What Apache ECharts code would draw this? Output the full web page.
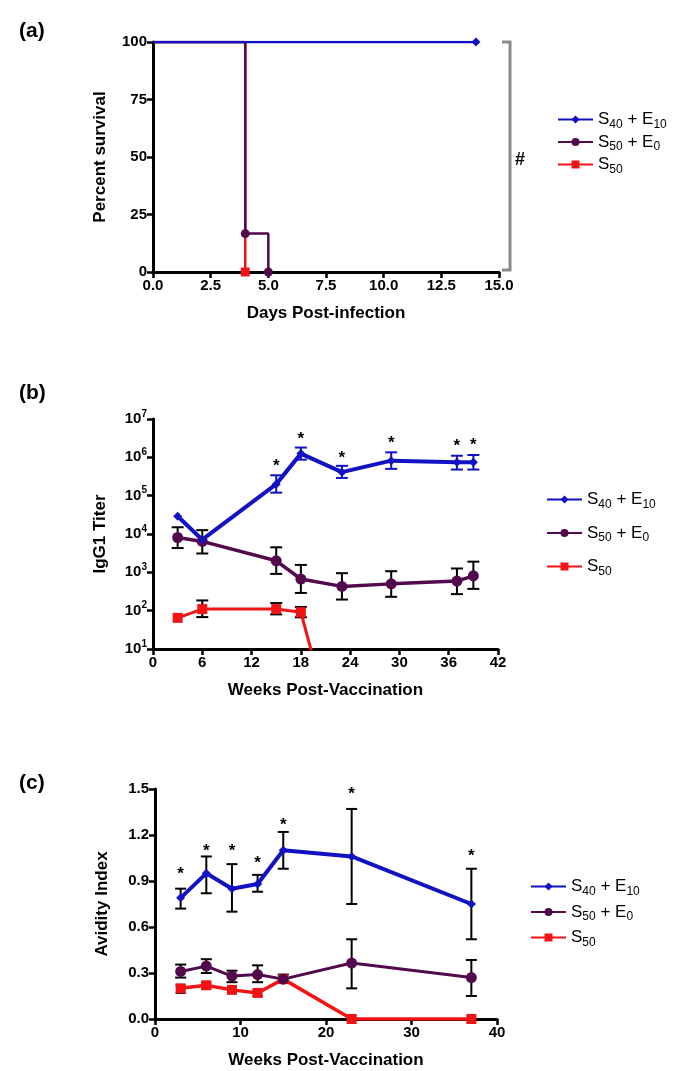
<!DOCTYPE html>
<html>
<head>
<meta charset="utf-8">
<script src="https://cdn.jsdelivr.net/npm/echarts@6/dist/echarts.min.js"></script>
<style>
  html, body { margin: 0; padding: 0; background: #fff; }
  #chart { width: 677px; height: 1071px; }
</style>
</head>
<body>
<div id="chart"></div>
<script>
// (a) survival, days post-infection
const daysBlue = [0, 14]
const survBlue = [100, 100]
const daysPurple = [0, 4, 5]
const survPurple = [100, 16.7, 0]
const daysRed = [0, 4]
const survRed = [100, 0]

// (b) IgG1 titer, weeks post-vaccination
const weeksB = [3, 6, 15, 18, 23, 29, 37, 39]
const igBlue = [29000, 7100, 200000, 1250000, 410000, 820000, 740000, 740000]
const igBlueLo = [null, null, 120000, 870000, 290000, 500000, 480000, 480000]
const igBlueHi = [null, null, 340000, 1800000, 600000, 1350000, 1100000, 1150000]
const igPurple = [8100, 6400, 2000, 670, 430, 500, 590, 810]
const igPurpleLo = [4300, 3100, 910, 290, 195, 230, 270, 370]
const igPurpleHi = [15000, 12600, 4500, 1560, 950, 1070, 1260, 1900]
const weeksRedB = [3, 6, 15, 18, 23]
const igRed = [65, 110, 110, 91, 0.01]
const igRedLo = [null, 68, 80, 67, null]
const igRedHi = [null, 185, 158, 125, null]
const starsB = [[15, 7.4e5], [18, 3.7e6], [23, 1.17e6], [29, 2.9e6], [37, 2.5e6], [39, 2.6e6]]

// (c) avidity index
const weeksC = [3, 6, 9, 12, 15, 23, 37]
const avBlue = [0.79, 0.95, 0.85, 0.88, 1.10, 1.06, 0.75]
const avBlueLo = [0.72, 0.82, 0.70, 0.83, 0.98, 0.75, 0.52]
const avBlueHi = [0.85, 1.06, 1.01, 0.94, 1.22, 1.37, 0.98]
const avPurple = [0.31, 0.345, 0.28, 0.29, 0.26, 0.365, 0.27]
const avPurpleLo = [0.27, 0.30, 0.24, 0.24, 0.235, 0.20, 0.15]
const avPurpleHi = [0.355, 0.39, 0.315, 0.35, 0.29, 0.52, 0.385]
const avRed = [0.20, 0.22, 0.19, 0.17, 0.26, 0, 0]
const avRedLo = [0.17, 0.20, 0.17, 0.15, null, null, null]
const avRedHi = [0.22, 0.235, 0.21, 0.19, null, null, null]
const starsC = [[3, 0.97], [6, 1.12], [9, 1.12], [12, 1.04], [15, 1.29], [23, 1.49], [37, 1.09]]

const names = ['S40 + E10', 'S50 + E0', 'S50']
const BLUE = '#1212c4'
const PURPLE = '#520a4c'
const RED = '#f21414'
const FONT = '"Liberation Sans", Arial, sans-serif'

const legendRich = {
  t: { fontSize: 17, fontFamily: FONT, color: '#000', lineHeight: 22 },
  s: { fontSize: 12, fontFamily: FONT, color: '#000', lineHeight: 12, verticalAlign: 'bottom' }
}
const legendText = {
  'S40 + E10': '{t|S}{s|40}{t| + E}{s|10}',
  'S50 + E0': '{t|S}{s|50}{t| + E}{s|0}',
  'S50': '{t|S}{s|50}'
}

function pairs(xs, ys) {
  return xs.map((x, i) => [x, ys[i]])
}

// survival points, no marker on the starting point
function survData(xs, ys) {
  return xs.map((x, i) => (i === 0 ? { value: [x, ys[i]], symbol: 'none' } : [x, ys[i]]))
}

function errorBars(xs, lo, hi, color, xi, w) {
  const data = []
  xs.forEach((x, i) => {
    if (lo[i] != null) data.push([x, lo[i], hi[i]])
  })
  return {
    type: 'custom',
    xAxisIndex: xi,
    yAxisIndex: xi,
    z: 3,
    silent: true,
    data: data,
    encode: { x: 0, y: [1, 2] },
    renderItem: function (params, api) {
      const x = api.value(0)
      const top = api.coord([x, api.value(2)])
      const bot = api.coord([x, api.value(1)])
      const st = { stroke: color, lineWidth: 2 }
      return {
        type: 'group',
        children: [
          { type: 'line', shape: { x1: top[0], y1: top[1], x2: bot[0], y2: bot[1] }, style: st },
          { type: 'line', shape: { x1: top[0] - w, y1: top[1], x2: top[0] + w, y2: top[1] }, style: st },
          { type: 'line', shape: { x1: bot[0] - w, y1: bot[1], x2: bot[0] + w, y2: bot[1] }, style: st }
        ]
      }
    }
  }
}

function stars(pts, xi) {
  return {
    type: 'custom',
    xAxisIndex: xi,
    yAxisIndex: xi,
    z: 4,
    silent: true,
    data: pts,
    renderItem: function (params, api) {
      const p = api.coord([api.value(0), api.value(1)])
      return {
        type: 'text',
        x: p[0],
        y: p[1] + 4,
        style: { text: '*', fill: '#000', font: 'bold 17px ' + FONT, align: 'center', verticalAlign: 'middle' }
      }
    }
  }
}

const axisBase = {
  axisLine: { lineStyle: { color: '#000', width: 3 } },
  axisTick: { length: 6, lineStyle: { color: '#000', width: 2.5 } },
  axisLabel: { color: '#000', fontFamily: FONT, fontWeight: 'bold', fontSize: 15, margin: 6 },
  splitLine: { show: false },
  nameLocation: 'middle',
  nameTextStyle: { color: '#000', fontFamily: FONT, fontWeight: 'bold', fontSize: 17 }
}

function xAx(i, max, step, fmt) {
  return Object.assign({}, axisBase, {
    gridIndex: i, type: 'value', min: 0, max: max, interval: step,
    name: i === 0 ? 'Days Post-infection' : 'Weeks Post-Vaccination', nameGap: 33,
    axisLabel: Object.assign({}, axisBase.axisLabel, { formatter: fmt })
  })
}

function legend(left, top, gap) {
  return {
    data: names, orient: 'vertical', left: left, top: top,
    itemWidth: 35, itemHeight: 10, itemGap: gap, selectedMode: false,
    formatter: n => legendText[n],
    textStyle: { rich: legendRich }
  }
}

const chart = echarts.init(document.getElementById('chart'))

chart.setOption({
  animation: false,
  title: [
    { text: '(a)', left: 14, top: 16 },
    { text: '(b)', left: 14, top: 378 },
    { text: '(c)', left: 14, top: 768 }
  ].map(t => Object.assign(t, { textStyle: { fontFamily: FONT, fontSize: 21, fontWeight: 'bold', color: '#000' } })),
  legend: [legend(552, 106, 3), legend(541, 486, 14), legend(525, 873, 6)],
  grid: [
    { left: 153, top: 42, width: 346, height: 230 },
    { left: 153, top: 419, width: 345, height: 230 },
    { left: 155, top: 789, width: 342, height: 230 }
  ],
  xAxis: [
    xAx(0, 15, 2.5, v => v.toFixed(1)),
    xAx(1, 42, 6, v => String(v)),
    xAx(2, 40, 10, v => String(v))
  ],
  yAxis: [
    Object.assign({}, axisBase, {
      gridIndex: 0, type: 'value', min: 0, max: 100, interval: 25,
      name: 'Percent survival', nameGap: 44
    }),
    Object.assign({}, axisBase, {
      gridIndex: 1, type: 'log', logBase: 10, min: 10, max: 1e7, splitNumber: 6,
      name: 'IgG1 Titer', nameGap: 44,
      axisLabel: Object.assign({}, axisBase.axisLabel, {
        formatter: v => '{b|10}{e|' + Math.round(Math.log10(v)) + '}',
        rich: {
          b: { fontFamily: FONT, fontWeight: 'bold', fontSize: 15, color: '#000', lineHeight: 20 },
          e: { fontFamily: FONT, fontWeight: 'bold', fontSize: 10, color: '#000', lineHeight: 10, verticalAlign: 'top' }
        }
      })
    }),
    Object.assign({}, axisBase, {
      gridIndex: 2, type: 'value', min: 0, max: 1.5, interval: 0.3,
      name: 'Avidity Index', nameGap: 44,
      axisLabel: Object.assign({}, axisBase.axisLabel, { formatter: v => v.toFixed(1) })
    })
  ],
  series: [
    // (a)
    { name: names[2], type: 'line', step: 'end', xAxisIndex: 0, yAxisIndex: 0, data: survData(daysRed, survRed),
      symbol: 'rect', symbolSize: 9, color: RED, lineStyle: { width: 2.5 } },
    { name: names[1], type: 'line', step: 'end', xAxisIndex: 0, yAxisIndex: 0, data: survData(daysPurple, survPurple),
      symbol: 'circle', symbolSize: 9, color: PURPLE, lineStyle: { width: 2.5 } },
    { name: names[0], type: 'line', step: 'end', xAxisIndex: 0, yAxisIndex: 0, data: survData(daysBlue, survBlue),
      symbol: 'diamond', symbolSize: 9, color: BLUE, lineStyle: { width: 2.5 } },
    // (b)
    { name: names[2], type: 'line', xAxisIndex: 1, yAxisIndex: 1, data: pairs(weeksRedB, igRed),
      symbol: 'rect', symbolSize: 10, color: RED, lineStyle: { width: 3 } },
    { name: names[1], type: 'line', xAxisIndex: 1, yAxisIndex: 1, data: pairs(weeksB, igPurple),
      symbol: 'circle', symbolSize: 11, color: PURPLE, lineStyle: { width: 3.5 } },
    { name: names[0], type: 'line', xAxisIndex: 1, yAxisIndex: 1, data: pairs(weeksB, igBlue),
      symbol: 'diamond', symbolSize: 9, color: BLUE, lineStyle: { width: 4 } },
    errorBars(weeksRedB, igRedLo, igRedHi, '#000', 1, 6),
    errorBars(weeksB, igPurpleLo, igPurpleHi, '#000', 1, 6),
    errorBars(weeksB, igBlueLo, igBlueHi, BLUE, 1, 6),
    stars(starsB, 1),
    // (c)
    { name: names[2], type: 'line', xAxisIndex: 2, yAxisIndex: 2, data: pairs(weeksC, avRed),
      symbol: 'rect', symbolSize: 10, color: RED, lineStyle: { width: 3.5 } },
    { name: names[1], type: 'line', xAxisIndex: 2, yAxisIndex: 2, data: pairs(weeksC, avPurple),
      symbol: 'circle', symbolSize: 11, color: PURPLE, lineStyle: { width: 3 } },
    { name: names[0], type: 'line', xAxisIndex: 2, yAxisIndex: 2, data: pairs(weeksC, avBlue),
      symbol: 'diamond', symbolSize: 9, color: BLUE, lineStyle: { width: 4 } },
    errorBars(weeksC, avRedLo, avRedHi, '#000', 2, 5),
    errorBars(weeksC, avPurpleLo, avPurpleHi, '#000', 2, 5.5),
    errorBars(weeksC, avBlueLo, avBlueHi, '#000', 2, 5.5),
    stars(starsC, 2)
  ]
})

// significance bracket for (a)
const yTop = chart.convertToPixel({ yAxisIndex: 0 }, 100)
const yBot = chart.convertToPixel({ yAxisIndex: 0 }, 0)
const xEnd = chart.convertToPixel({ xAxisIndex: 0 }, 15)
chart.setOption({
  graphic: [
    { type: 'polyline', shape: { points: [[xEnd + 3, yTop], [xEnd + 11, yTop], [xEnd + 11, yBot - 2], [xEnd + 3, yBot - 2]] },
      style: { stroke: '#8a8a8a', lineWidth: 3, fill: null } },
    { type: 'text', x: xEnd + 21, y: (yTop + yBot) / 2 + 3,
      style: { text: '#', font: 'bold 18px ' + FONT, fill: '#000', align: 'center', verticalAlign: 'middle' } }
  ]
})

window.addEventListener('resize', chart.resize)
</script>
</body>
</html>
